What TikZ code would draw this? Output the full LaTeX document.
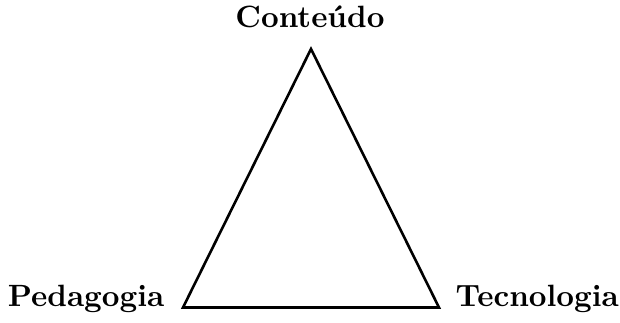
\documentclass[tikz,border=0pt]{standalone}
\begin{document}
\begin{tikzpicture}[x=1pt,y=1pt,
  lbl/.style={inner sep=0pt, scale=3.08, font=\fontsize{10}{12}\selectfont\bfseries},
  edge/.style={line width=2.6pt}]
\useasboundingbox (0,0) rectangle (620,323);
\coordinate (A) at (311,274);
\coordinate (B) at (183,15.5);
\coordinate (C) at (439,15.5);
\draw[edge] (A) -- (B) -- (C) -- cycle;
\node[lbl, anchor=base] (c) at (310,295.5) {Conteúdo};
\node[lbl, anchor=base east] (p) at (165,16) {Pedagogia};
\node[lbl, anchor=base west] (t) at (455,16) {Tecnologia};
\end{tikzpicture}
\end{document}
